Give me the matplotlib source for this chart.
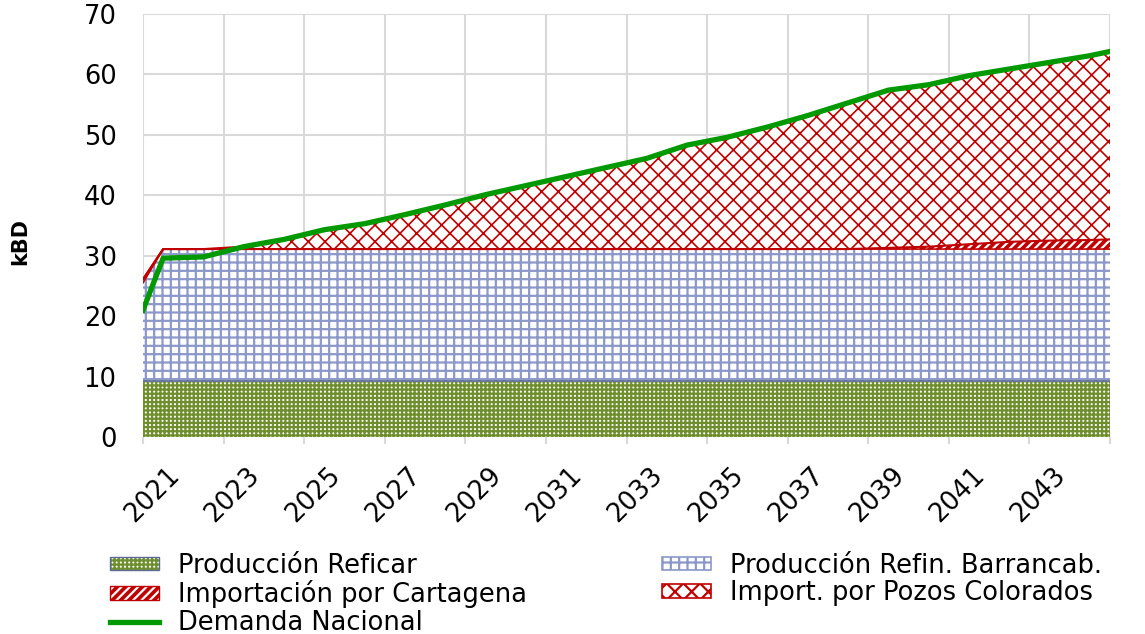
import numpy as np
import matplotlib
matplotlib.use('Agg')
import matplotlib.pyplot as plt
from matplotlib.patches import Patch
from matplotlib.lines import Line2D
import matplotlib.transforms as mtransforms

# posiciones en el eje (primer punto al inicio de 2021, luego a mitad de año)
anios = [2021.0, 2021.5, 2022.5, 2023.5, 2024.5, 2025.5, 2026.5, 2027.5, 2028.5,
         2029.5, 2030.5, 2031.5, 2032.5, 2033.5, 2034.5, 2035.5, 2036.5, 2037.5,
         2038.5, 2039.5, 2040.5, 2041.5, 2042.5, 2043.5, 2044.5, 2045.0]

reficar = [9.2] * 26
barranca = [16.3] + [21.9] * 25
cartagena = [0.6, 0, 0, 0, 0, 0, 0, 0, 0, 0, 0, 0, 0, 0, 0, 0, 0, 0, 0,
             0.2, 0.4, 0.8, 1.2, 1.4, 1.5, 1.6]
pozos = [0, 0, 0, 0.4, 1.6, 3.2, 4.2, 5.7, 7.3, 9.0, 10.5, 12.0, 13.5, 15.0,
         17.2, 18.5, 20.2, 22.1, 24.2, 26.1, 26.8, 27.9, 28.6, 29.5, 30.5, 31.1]
demanda = [21.0, 29.6, 29.8, 31.5, 32.7, 34.3, 35.3, 36.8, 38.4, 40.1, 41.6,
           43.1, 44.6, 46.1, 48.3, 49.6, 51.3, 53.2, 55.3, 57.4, 58.3, 59.8,
           60.9, 62.0, 63.1, 63.8]

ticks_x = [2021, 2023, 2025, 2027, 2029, 2031, 2033, 2035, 2037, 2039, 2041, 2043]
ticks_y = [0, 10, 20, 30, 40, 50, 60, 70]

VERDE = '#6F8E2E'
AZUL = '#8C98CA'
ROJO = '#C00000'
VERDE_LINEA = '#009900'

plt.rcParams['font.family'] = ['DejaVu Sans']
plt.rcParams['hatch.linewidth'] = 1.6

fig = plt.figure(figsize=(11.45, 6.34), dpi=100)
ax = fig.add_axes([143/1145, 1-437/634, (1110-143)/1145, (437-14)/634])

x = np.array(anios)
s0 = np.zeros(len(x))
s1 = s0 + np.array(reficar)
s2 = s1 + np.array(barranca)
s3 = s2 + np.array(cartagena)
s4 = s3 + np.array(pozos)

# Produccion Reficar: verde con cuadritos blancos
ax.fill_between(x, s0, s1, facecolor='white', lw=0, zorder=2)
ax.fill_between(x, s0, s1, facecolor='none', edgecolor=VERDE, hatch='++++', lw=0, zorder=2)
# Barrancabermeja: cuadricula azul
ax.fill_between(x, s1, s2, facecolor='white', lw=0, zorder=2)
ax.fill_between(x, s1, s2, facecolor='none', edgecolor=AZUL, hatch='++', lw=0, zorder=2)
# Cartagena: rojo con rayas blancas
ax.fill_between(x, s2, s3, facecolor=ROJO, lw=0, zorder=2)
ax.fill_between(x, s2, s3, facecolor='none', edgecolor='white', hatch='////', lw=0, zorder=2)
# Pozos Colorados: rombos rojos
ax.fill_between(x, s3, s4, facecolor='white', lw=0, zorder=2)
with plt.rc_context({'hatch.linewidth': 1.2}):
    ax.fill_between(x, s3, s4, facecolor='none', edgecolor=ROJO, hatch='xx', lw=0, zorder=2)

ax.plot(x, s1, color='#5B6A96', lw=1.2, zorder=3)
ax.plot(x, s2, color=ROJO, lw=1.2, zorder=3)
ax.plot(x, s3, color=ROJO, lw=1.5, zorder=3)
ax.plot(x, s4, color=ROJO, lw=1.5, zorder=3)

ax.plot(x, demanda, color=VERDE_LINEA, lw=3.8, zorder=5)

ax.set_xlim(2021, 2045)
ax.set_ylim(0, 70)
ax.set_xticks(ticks_x + [2045])
ax.set_xticklabels([str(t) for t in ticks_x] + [''])
ax.set_yticks(ticks_y)
ax.grid(True, color='#D9D9D9', lw=1.5, zorder=0)
ax.set_axisbelow(True)
for sp in ax.spines.values():
    sp.set_visible(False)

ax.tick_params(axis='y', length=0, pad=19, labelsize=18.5)
ax.tick_params(axis='x', length=5, color='#D9D9D9', width=1.5, pad=13, labelsize=18.5)
desplaza = mtransforms.ScaledTranslation(9/100, 0, fig.dpi_scale_trans)
for lab in ax.get_xticklabels():
    lab.set_rotation(45)
    lab.set_ha('center')
    lab.set_va('top')
    lab.set_transform(lab.get_transform() + desplaza)

fig.text(20/1145, 1-241/634, 'kBD', rotation=90, fontsize=15, fontweight='bold',
         ha='center', va='center')

h_reficar = (Patch(facecolor='white', edgecolor=VERDE, hatch='++++', lw=0),
             Patch(facecolor='none', edgecolor='#5B6A96', lw=1))
h_barranca = Patch(facecolor='white', edgecolor=AZUL, hatch='++', lw=1.2)
h_cartagena = (Patch(facecolor=ROJO, edgecolor='white', hatch='////', lw=0),
               Patch(facecolor='none', edgecolor=ROJO, lw=1))
h_pozos = Patch(facecolor='white', edgecolor=ROJO, hatch='xx', lw=1.2)
h_demanda = Line2D([0], [0], color=VERDE_LINEA, lw=3.8)

opciones = dict(loc='upper left', frameon=False, fontsize=18.5, handlelength=1.9,
                handleheight=0.42, handletextpad=0.75, labelspacing=0.05,
                borderpad=0, borderaxespad=0)
leg1 = fig.legend([h_reficar, h_cartagena, h_demanda],
                  ['Producción Reficar', 'Importación por Cartagena', 'Demanda Nacional'],
                  bbox_to_anchor=(110/1145, 1-553/634), **opciones)
leg2 = fig.legend([h_barranca, h_pozos],
                  ['Producción Refin. Barrancab.', 'Import. por Pozos Colorados'],
                  bbox_to_anchor=(662/1145, 1-553/634), **opciones)

fig.savefig('out.png', dpi=100)
